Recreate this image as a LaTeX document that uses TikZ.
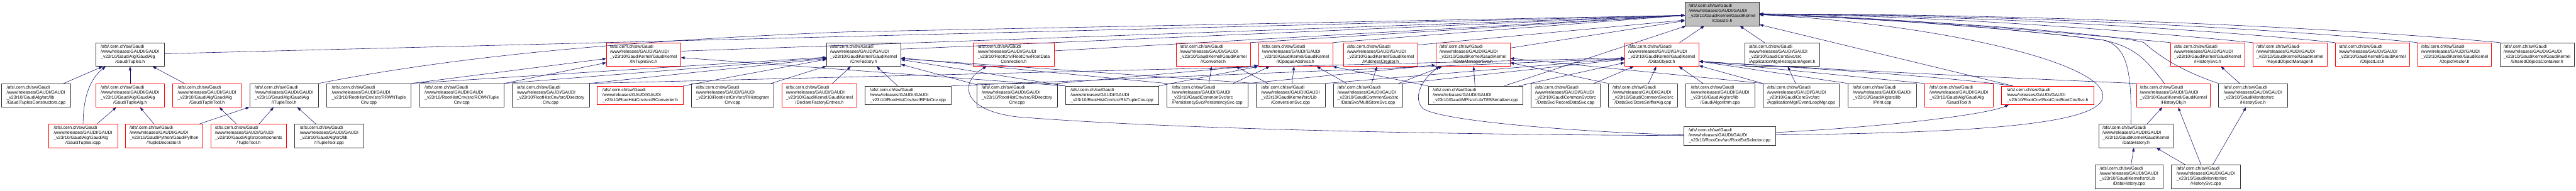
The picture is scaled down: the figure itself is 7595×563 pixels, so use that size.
\documentclass[tikz,border=0pt]{standalone}
\usepackage{fontspec}
\setmainfont{Liberation Sans}
\usetikzlibrary{arrows.meta,calc}
\definecolor{edgec}{HTML}{191970}
\definecolor{rootfill}{HTML}{BFBFBF}
\newcommand{\gf}{\fontsize{12.9}{14.7}\selectfont}
\newcommand{\AF}{/afs/.cern.ch/sw/Gaudi\\/www/releases/GAUDI/GAUDI}
\newcommand{\dlab}[2]{\begin{tabular}{@{}l@{}}\AF\\#1\\\multicolumn{1}{@{}c@{}}{#2}\end{tabular}}
\newcommand{\tlab}[1]{\begin{tabular}{@{}l@{}}\AF\\#1\end{tabular}}
\newcommand{\GK}{\_v23r10/GaudiKernel/GaudiKernel}
\newcommand{\GA}{\_v23r10/GaudiAlg/GaudiAlg}
\tikzset{
  nb/.style={draw, line width=1pt, fill=white, inner sep=0pt, minimum height=69.7pt, font=\gf},
  nbt/.style={nb, minimum height=55pt},
  blk/.style={draw=black!80},
  rd/.style={draw=red},
  rootn/.style={draw=black!80, fill=rootfill},
  dep/.style={draw=edgec, line width=1.1pt, -{Triangle[length=11pt,width=8pt]}}
}
\begin{document}
\begin{tikzpicture}[x=1pt,y=-1pt]
\useasboundingbox (0,0) rectangle (7595,563);
% row 0
\node[nb,rootn,minimum width=219pt] (cls) at (5077.5,41.25) {\dlab{\GK}{/ClassID.h}};
% row 1
\node[nb,blk,minimum width=203pt] (gtuples) at (383.5,161) {\dlab{\GA}{/GaudiTuples.h}};
\node[nb,rd,minimum width=219pt] (ntsvc) at (1897.5,161) {\dlab{\GK}{/INTupleSvc.h}};
\node[nb,blk,minimum width=219pt] (cnvfac) at (2546.5,161) {\dlab{\GK}{/CnvFactory.h}};
\node[nb,rd,minimum width=240pt] (rdc) at (2989,161) {\dlab{\_v23r10/RootCnv/RootCnv/RootData}{Connection.h}};
\node[nb,rd,minimum width=218pt] (iconv) at (3577,161) {\dlab{\GK}{/IConverter.h}};
\node[nb,rd,minimum width=219pt] (iopaq) at (3819.5,161) {\dlab{\GK}{/IOpaqueAddress.h}};
\node[nb,rd,minimum width=219pt] (iaddr) at (4070.5,161) {\dlab{\GK}{/IAddressCreator.h}};
\node[nb,rd,minimum width=219pt] (idms) at (4342.5,161) {\dlab{\GK}{/IDataManagerSvc.h}};
\node[nb,rd,minimum width=219pt] (dobj) at (4899.5,161) {\dlab{\GK}{/DataObject.h}};
\node[nb,blk,minimum width=221pt] (hagent) at (5254.5,161) {\dlab{\_v23r10/GaudiCoreSvc/src}{/ApplicationMgr/HistogramAgent.h}};
\node[nb,rd,minimum width=218pt] (ihist) at (6509,161) {\dlab{\GK}{/IHistorySvc.h}};
\node[nb,rd,minimum width=219pt] (keyed) at (6751.5,161) {\dlab{\GK}{/KeyedObjectManager.h}};
\node[nb,rd,minimum width=219pt] (olist) at (6994.5,161) {\dlab{\GK}{/ObjectList.h}};
\node[nb,rd,minimum width=218pt] (ovec) at (7237,161) {\dlab{\GK}{/ObjectVector.h}};
\node[nb,blk,minimum width=218pt] (shared) at (7480,161) {\dlab{\GK}{/SharedObjectsContainer.h}};
% row 2
\node[nb,blk,minimum width=203pt] (gtcons) at (106.5,281.5) {\dlab{\_v23r10/GaudiAlg/src/lib}{/GaudiTuplesConstructors.cpp}};
\node[nb,rd,minimum width=203pt] (gtalg) at (383.5,281.5) {\dlab{\GA}{/GaudiTupleAlg.h}};
\node[nb,rd,minimum width=203pt] (gttool) at (610.5,281.5) {\dlab{\GA}{/GaudiTupleTool.h}};
\node[nb,blk,minimum width=203pt] (itt) at (837.5,281.5) {\dlab{\GA}{/ITupleTool.h}};
\node[nb,blk,minimum width=249pt] (rrwn) at (1087.5,281.5) {\dlab{\_v23r10/RootHistCnv/src/RRWNTuple}{Cnv.cpp}};
\node[nb,blk,minimum width=249pt] (rcwn) at (1361.5,281.5) {\dlab{\_v23r10/RootHistCnv/src/RCWNTuple}{Cnv.cpp}};
\node[nb,blk,minimum width=227pt] (dircnv) at (1623.5,281.5) {\dlab{\_v23r10/RootHistCnv/src/Directory}{Cnv.cpp}};
\node[nbt,rd,minimum width=253pt] (rconv) at (1887.5,281.5) {\tlab{\_v23r10/RootHistCnv/src/RConverter.h}};
\node[nb,blk,minimum width=244pt] (rhist) at (2160,281.5) {\dlab{\_v23r10/RootHistCnv/src/RHistogram}{Cnv.cpp}};
\node[nb,rd,minimum width=220pt] (dfe) at (2416,281.5) {\dlab{\GK}{/DeclareFactoryEntries.h}};
\node[nbt,blk,minimum width=254pt] (rfile) at (2677,281.5) {\tlab{\_v23r10/RootHistCnv/src/RFileCnv.cpp}};
\node[nb,blk,minimum width=237pt] (rdir) at (2998.5,281.5) {\dlab{\_v23r10/RootHistCnv/src/RDirectory}{Cnv.cpp}};
\node[nbt,blk,minimum width=275pt] (rnt) at (3278.5,281.5) {\tlab{\_v23r10/RootHistCnv/src/RNTupleCnv.cpp}};
\node[nb,blk,minimum width=239pt] (pers) at (3559.5,281.5) {\dlab{\_v23r10/GaudiCommonSvc/src}{/PersistencySvc/PersistencySvc.cpp}};
\node[nb,blk,minimum width=204pt] (convsvc) at (3805,281.5) {\dlab{\_v23r10/GaudiKernel/src/Lib}{/ConversionSvc.cpp}};
\node[nb,blk,minimum width=204pt] (multi) at (4033,281.5) {\dlab{\_v23r10/GaudiCommonSvc/src}{/DataSvc/MultiStoreSvc.cpp}};
\node[nbt,blk,minimum width=279pt] (tes) at (4350.5,281.5) {\tlab{\_v23r10/GaudiMP/src/Lib/TESSerializer.cpp}};
\node[nb,blk,minimum width=204pt] (record) at (4616,281.5) {\dlab{\_v23r10/GaudiCommonSvc/src}{/DataSvc/RecordDataSvc.cpp}};
\node[nb,blk,minimum width=204pt] (sniff) at (4844,281.5) {\dlab{\_v23r10/GaudiCommonSvc/src}{/DataSvc/StoreSnifferAlg.cpp}};
\node[nb,blk,minimum width=203pt] (galg) at (5071.5,281.5) {\dlab{\_v23r10/GaudiAlg/src/lib}{/GaudiAlgorithm.cpp}};
\node[nb,blk,minimum width=225pt] (evloop) at (5310.5,281.5) {\dlab{\_v23r10/GaudiCoreSvc/src}{/ApplicationMgr/EventLoopMgr.cpp}};
\node[nb,blk,minimum width=203pt] (print) at (5549.5,281.5) {\dlab{\_v23r10/GaudiAlg/src/lib}{/Print.cpp}};
\node[nb,rd,minimum width=203pt] (gtool) at (5775.5,281.5) {\dlab{\GA}{/GaudiTool.h}};
\node[nbt,rd,minimum width=272pt] (rcsvc) at (6037,281.5) {\tlab{\_v23r10/RootCnv/RootCnv/RootCnvSvc.h}};
\node[nb,rd,minimum width=218pt] (hobj) at (6408,281.5) {\dlab{\GK}{/HistoryObj.h}};
\node[nb,blk,minimum width=203pt] (hsvch) at (6642.5,281.5) {\dlab{\_v23r10/GaudiMonitor/src}{/HistorySvc.h}};
% row 3
\node[nb,rd,minimum width=204pt] (icpp) at (245,401) {\dlab{\GA}{/GaudiTuples.icpp}};
\node[nb,rd,minimum width=227pt] (tdec) at (483.5,401) {\dlab{\_v23r10/GaudiPython/GaudiPython}{/TupleDecorator.h}};
\node[nb,rd,minimum width=224pt] (ttool) at (733,401) {\dlab{\_v23r10/GaudiAlg/src/components}{/TupleTool.h}};
\node[nb,blk,minimum width=203pt] (ittcpp) at (970.5,401) {\dlab{\_v23r10/GaudiAlg/src/lib}{/ITupleTool.cpp}};
\node[nbt,blk,minimum width=271pt] (rsel) at (5099.5,401) {\tlab{\_v23r10/RootCnv/src/RootEvtSelector.cpp}};
\node[nb,blk,minimum width=219pt] (dhist) at (6297.5,401) {\dlab{\GK}{/DataHistory.h}};
% row 4
\node[nb,blk,minimum width=202pt] (dhcpp) at (6277,521.5) {\dlab{\_v23r10/GaudiKernel/src/Lib}{/DataHistory.cpp}};
\node[nb,blk,minimum width=203pt] (hsvccpp) at (6503.5,521.5) {\dlab{\_v23r10/GaudiMonitor/src}{/HistorySvc.cpp}};

% ---- edges: left cluster
\draw[dep] (gtcons) -- (gtuples);
\draw[dep] (icpp.north) .. controls +(0,-80) and +(-45,35) .. ($(gtuples.south west)+(30,0)$);
\draw[dep] (gtalg) -- (gtuples);
\draw[dep] (gttool) -- (gtuples);
\draw[dep] (icpp) -- (gtalg);
\draw[dep] (tdec) -- (gtalg);
\draw[dep] (tdec) -- (itt);
\draw[dep] (ttool) -- (gttool);
\draw[dep] (ttool) -- (itt);
\draw[dep] (ittcpp) -- (itt);
\draw[dep] (gtuples) -- ($(cls.west)+(0,4)$);
\draw[dep] (itt.north east) .. controls (1250,185) and (1700,125) .. (2500,94) -- ($(cls.west)+(0,4)$);

% ---- edges: middle
\draw[dep] (rrwn.north east) -- ($(ntsvc.west)+(0,12)$);
\draw[dep] (rcwn.north east) -- ($(ntsvc.west)+(0,24)$);
\draw[dep] (rrwn.north east) -- ($(cnvfac.west)+(0,8)$);
\draw[dep] (rcwn.north east) -- ($(cnvfac.west)+(0,10)$);
\draw[dep] (dircnv.north east) -- ($(cnvfac.west)+(0,12)$);
\draw[dep] (rconv.north east) -- ($(cnvfac.west)+(0,14)$);
\draw[dep] (rhist) -- (cnvfac);
\draw[dep] (dfe) -- (cnvfac);
\draw[dep] (rfile) -- (cnvfac);
\draw[dep] (rdir) -- (cnvfac);
\draw[dep] (rnt.north west) -- ($(cnvfac.east)+(0,15)$);
\draw[dep] (rnt.north west) -- ($(ntsvc.east)+(0,9)$);
\draw[dep] (rnt.north east) -- (iopaq.south west);
\draw[dep] (rdir.north east) -- ($(iopaq.south west)+(0,-3)$);
\draw[dep] (pers) -- (iconv);
\draw[dep] (pers) -- (iopaq);
\draw[dep] (pers.north west) -- ($(cnvfac.east)+(0,10)$);
\draw[dep] (pers.north east) -- ($(idms.west)+(0,31)$);
\draw[dep] (convsvc) -- (iconv);
\draw[dep] (convsvc) -- (iopaq);
\draw[dep] (convsvc.north west) -- ($(cnvfac.east)+(0,12)$);
\draw[dep] (convsvc.north east) -- ($(dobj.west)+(0,12)$);
\draw[dep] (multi) -- (iopaq);
\draw[dep] (multi) -- (iaddr);
\draw[dep] (multi) -- (idms);
\draw[dep] (multi.north east) -- ($(dobj.west)+(0,14)$);
\draw[dep] (tes) -- (idms);
\draw[dep] (tes.north west) -- (iopaq.south east);
\draw[dep] (tes) -- (cls);
\draw[dep] (tes) -- (dobj);
\draw[dep] (dircnv.north east) -- ($(dobj.west)+(0,10)$);
\draw[dep] (rfile.north east) -- ($(dobj.west)+(0,12)$);
\draw[dep] ($(ntsvc.east)+(0,-10)$) -- ($(cls.west)+(0,4)$);
\draw[dep] ($(cnvfac.east)+(0,-16)$) -- ($(cls.west)+(0,4)$);
\draw[dep] ($(rdc.east)+(0,-11)$) -- ($(cls.west)+(0,4)$);
\draw[dep] (iconv.north east) -- ($(cls.west)+(0,4)$);
\draw[dep] (iopaq.north east) -- ($(cls.west)+(0,4)$);
\draw[dep] ($(iaddr.north east)+(0,7)$) -- ($(cls.west)+(0,18)$);
\draw[dep] ($(idms.north east)+(0,16)$) -- ($(cls.west)+(0,20)$);

% ---- edges: DataObject / ClassID area
\draw[dep] (record) -- (dobj);
\draw[dep] (sniff) -- (dobj);
\draw[dep] (galg) -- (dobj);
\draw[dep] (sniff.north west) -- ($(idms.east)+(0,24)$);
\draw[dep] (evloop.north west) -- ($(idms.east)+(0,11)$);
\draw[dep] (evloop.north west) -- ($(dobj.east)+(0,33)$);
\draw[dep] (evloop) -- (hagent);
\draw[dep] (dobj) -- (cls);
\draw[dep] (hagent) -- (cls);
\draw[dep] (print.north west) -- ($(dobj.east)+(0,20)$);
\draw[dep] (gtool.north west) -- ($(dobj.east)+(0,20)$);
\draw[dep] ($(rcsvc.north west)+(34,0)$) .. controls (5700,222) and (5300,200) .. ($(dobj.east)+(0,20)$);
\draw[dep] (hobj.north west) .. controls (5800,225) and (5300,200) .. ($(dobj.east)+(0,20)$);
\draw[dep] ($(rcsvc.north west)+(34,0)$) -- ($(cls.south east)+(0,-4)$);

% ---- RootEvtSelector
\draw[dep] ($(rsel.west)+(0,-3)$) .. controls (4700,392) and (4250,360) .. (4195,320) .. controls (4165,290) and (4190,235) .. ($(idms.south west)+(12,0)$);
\draw[dep] ($(rsel.west)+(0,-1)$) .. controls (4400,398) and (3500,385) .. (3000,345) .. controls (2830,325) and (2830,240) .. ($(rdc.south west)+(40,0)$);
\draw[dep] ($(rsel.east)+(0,-10)$) .. controls (5550,375) and (5850,340) .. ($(rcsvc.south west)+(22,0)$);
\draw[dep] ($(rsel.east)+(0,-3)$) .. controls (5800,392) and (6210,370) .. (6200,280) .. controls (6190,180) and (5700,70) .. ($(cls.east)+(0,2)$);

% ---- right cluster
\draw[dep] ($(dhist.north)+(-15,0)$) .. controls (6285,220) and (6275,135) .. (6200,118) .. controls (5900,80) and (5500,52) .. ($(cls.east)+(0,2)$);
\draw[dep] ($(hobj.north west)+(83,0)$) .. controls (6330,180) and (6300,140) .. (6200,118) .. controls (5900,80) and (5500,52) .. ($(cls.east)+(0,2)$);
\draw[dep] (hsvch.north west) .. controls (6420,205) and (6360,160) .. (6320,125) .. controls (6200,95) and (5600,55) .. ($(cls.east)+(0,2)$);
\draw[dep] (ihist.north west) .. controls +(-150,-14) and +(400,8) .. (cls.east);
\draw[dep] (keyed.north west) .. controls +(-250,-25) and +(600,6) .. (cls.east);
\draw[dep] (olist.north west) .. controls +(-300,-32) and +(700,4) .. (cls.east);
\draw[dep] (ovec.north west) .. controls +(-350,-36) and +(800,2) .. (cls.east);
\draw[dep] (shared.north west) .. controls +(-400,-38) and +(900,0) .. (cls.east);
\draw[dep] (hsvch) -- (ihist);
\draw[dep] (dhist) -- (hobj);
\draw[dep] (hsvccpp) -- (dhist);
\draw[dep] (hsvccpp) -- (hobj);
\draw[dep] (hsvccpp) -- (hsvch);
\draw[dep] (dhcpp) -- (dhist);
\end{tikzpicture}
\end{document}
